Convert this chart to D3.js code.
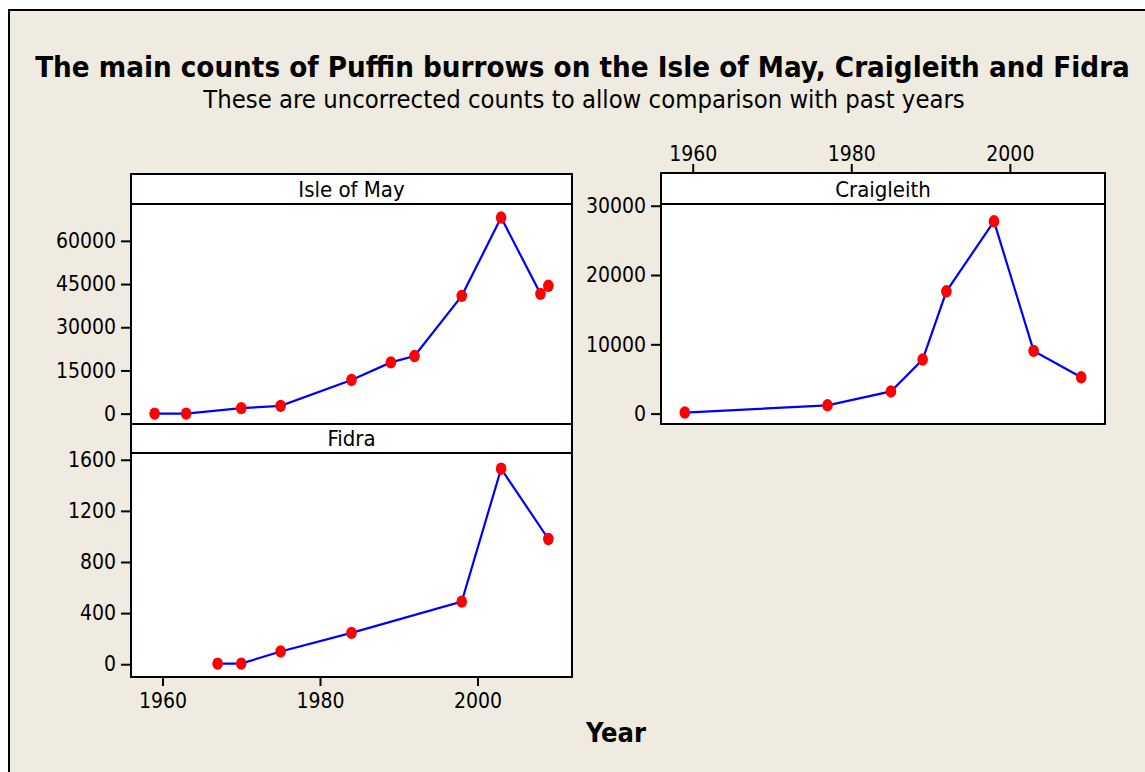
<!DOCTYPE html>
<html>
<head>
<meta charset="utf-8">
<script src="https://cdn.jsdelivr.net/npm/d3@7"></script>
<style>
  body { margin: 0; background: #fff; }
  svg text { font-family: "DejaVu Sans Condensed", "DejaVu Sans", sans-serif; fill: #000; }
  .axis path { display: none; }
  .axis line { stroke: #000; stroke-width: 2; }
  .axis text { font-size: 21px; }
</style>
</head>
<body>
<svg width="1145" height="772"></svg>
<script>
'use strict';

// data
const mayYears = [1959, 1963, 1970, 1975, 1984, 1989, 1992, 1998, 2003, 2008, 2009];
const mayCounts = [5, 10, 1900, 2700, 11700, 17800, 20000, 40900, 68100, 41600, 44400];
const craigYears = [1959, 1977, 1985, 1989, 1992, 1998, 2003, 2009];
const craigCounts = [150, 1200, 3200, 7800, 17650, 27750, 9050, 5240];
const fidraYears = [1967, 1970, 1975, 1984, 1998, 2003, 2009];
const fidraCounts = [5, 5, 100, 245, 490, 1530, 980];

const mayTicks = [0, 15000, 30000, 45000, 60000];
const craigTicks = [0, 10000, 20000, 30000];
const fidraTicks = [0, 400, 800, 1200, 1600];
const yearTicks = [1960, 1980, 2000];
const yearDomain = [1956, 2012];

const title = "The main counts of Puffin burrows on the Isle of May, Craigleith and Fidra";
const subtitle = "These are uncorrected counts to allow comparison with past years";
const xLabel = "Year";

const svg = d3.select("svg");

// frame
svg.append("rect")
    .attr("x", 9).attr("y", 10)
    .attr("width", 1145).attr("height", 772)
    .attr("fill", "#efebe0")
    .attr("stroke", "#000")
    .attr("stroke-width", 2);

function fitText(sel, target) {
  const w = sel.node().getComputedTextLength();
  const fs = parseFloat(sel.attr("font-size"));
  sel.attr("font-size", fs * target / w);
}

svg.append("text")
    .attr("x", 582.5).attr("y", 77)
    .attr("text-anchor", "middle")
    .attr("font-weight", "bold")
    .attr("font-size", 29)
    .text(title)
    .call(fitText, 1095);

svg.append("text")
    .attr("x", 584).attr("y", 108)
    .attr("text-anchor", "middle")
    .attr("font-size", 25)
    .text(subtitle)
    .call(fitText, 762);

svg.append("text")
    .attr("x", 616).attr("y", 742)
    .attr("text-anchor", "middle")
    .attr("font-weight", "bold")
    .attr("font-size", 26)
    .text(xLabel)
    .call(fitText, 60);

// panels: left, right, strip top, plot top, plot bottom
const panels = [
  {name: "Isle of May", years: mayYears, counts: mayCounts, ticks: mayTicks,
   yDomain: [-3600, 72800], left: 131, right: 572, stripTop: 174, top: 204, bottom: 424},
  {name: "Craigleith", years: craigYears, counts: craigCounts, ticks: craigTicks,
   yDomain: [-1500, 30250], left: 661, right: 1105, stripTop: 173, top: 204, bottom: 424, topAxis: true},
  {name: "Fidra", years: fidraYears, counts: fidraCounts, ticks: fidraTicks,
   yDomain: [-100, 1653], left: 131, right: 572, stripTop: 424, top: 453, bottom: 677, bottomAxis: true}
];

panels.forEach(function(p) {
  const x = d3.scaleLinear().domain(yearDomain).range([p.left, p.right]);
  const y = d3.scaleLinear().domain(p.yDomain).range([p.bottom, p.top]);
  const data = p.years.map(function(yr, i) { return {year: yr, count: p.counts[i]}; });

  svg.append("rect")
      .attr("x", p.left).attr("y", p.stripTop)
      .attr("width", p.right - p.left).attr("height", p.bottom - p.stripTop)
      .attr("fill", "#fff");

  svg.append("text")
      .attr("x", (p.left + p.right) / 2)
      .attr("y", p.top - 7)
      .attr("text-anchor", "middle")
      .attr("font-size", 22)
      .text(p.name);

  svg.append("g")
      .attr("class", "axis")
      .attr("transform", "translate(" + p.left + ",0)")
      .call(d3.axisLeft(y).tickValues(p.ticks).tickSize(10).tickPadding(5).tickFormat(d3.format("d")));

  if (p.topAxis) {
    svg.append("g")
        .attr("class", "axis")
        .attr("transform", "translate(0," + p.stripTop + ")")
        .call(d3.axisTop(x).tickValues(yearTicks).tickSize(9).tickPadding(3).tickFormat(d3.format("d")));
  }
  if (p.bottomAxis) {
    svg.append("g")
        .attr("class", "axis")
        .attr("transform", "translate(0," + p.bottom + ")")
        .call(d3.axisBottom(x).tickValues(yearTicks).tickSize(9).tickPadding(7).tickFormat(d3.format("d")));
  }

  svg.append("path")
      .datum(data)
      .attr("fill", "none")
      .attr("stroke", "#0000ff")
      .attr("stroke-width", 2.2)
      .attr("d", d3.line().x(function(d) { return x(d.year); }).y(function(d) { return y(d.count); }));

  svg.append("g").selectAll("ellipse")
      .data(data)
      .join("ellipse")
      .attr("cx", function(d) { return x(d.year); })
      .attr("cy", function(d) { return y(d.count); })
      .attr("rx", 5.3).attr("ry", 6.2)
      .attr("fill", "#ff0000");

  // strip line and border
  svg.append("line")
      .attr("x1", p.left).attr("x2", p.right)
      .attr("y1", p.top).attr("y2", p.top)
      .attr("stroke", "#000").attr("stroke-width", 2);
  svg.append("rect")
      .attr("x", p.left).attr("y", p.stripTop)
      .attr("width", p.right - p.left).attr("height", p.bottom - p.stripTop)
      .attr("fill", "none")
      .attr("stroke", "#000").attr("stroke-width", 2);
});
</script>
</body>
</html>
